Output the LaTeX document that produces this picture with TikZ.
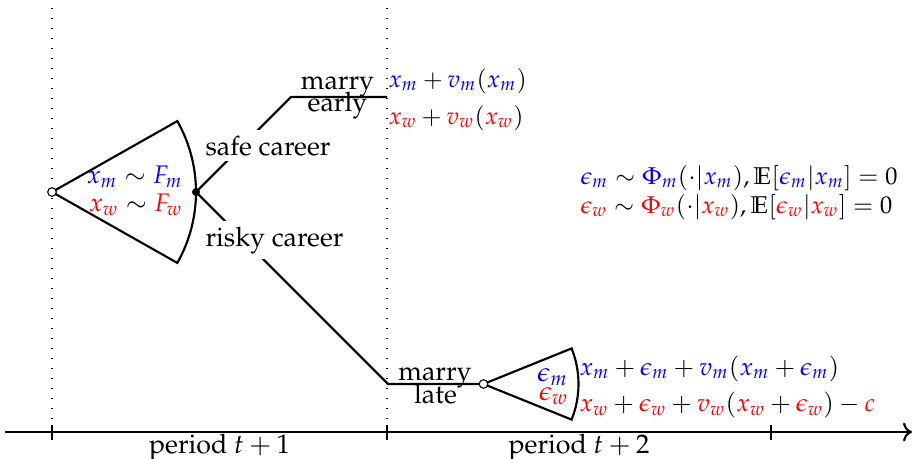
\documentclass[tikz,border=0pt]{standalone}
\usepackage[T1]{fontenc}
\usepackage{mathpazo}
\usepackage{amssymb}
\usetikzlibrary{arrows.meta}
\newcommand\Bl[1]{{\color{blue}#1}}
\newcommand\Rd[1]{{\color{red}#1}}
\begin{document}
\begin{tikzpicture}[x=0.373pt,y=-0.373pt,
  edge/.style={thick},
  guide/.style={line width=0.4pt, dash pattern=on 0.4pt off 3.33pt},
  lbl/.style={inner sep=0pt},
  mlbl/.style={inner sep=0pt, font=\fontsize{#1}{11}\selectfont},
  gap/.style={fill=white, inner sep=2pt},
  chance/.style={circle, draw, fill=white, line width=0.4pt, inner sep=0pt, minimum size=3.2pt},
  decision/.style={circle, fill=black, inner sep=0pt, minimum size=3pt}]
\useasboundingbox (0,0) rectangle (914,458);
% coordinates
\coordinate (o1) at (52,192);
\coordinate (d1) at (196,192);
\coordinate (e1) at (291,97);
\coordinate (e2) at (387,97);
\coordinate (l1) at (388,384);
\coordinate (o2) at (483.5,384);
\coordinate (a0) at (5,432);
\coordinate (a1) at (912,432);
\coordinate (t1) at (52,432);
\coordinate (t2) at (387,432);
\coordinate (t3) at (771,432);
\coordinate (g1) at (52,8);
\coordinate (g2) at (387,8);
% guides and axis
\draw[guide] (g1) -- (t1);
\draw[guide] (g2) -- (t2);
\draw[thick,->] (a0) -- (a1);
\foreach \t in {t1,t2,t3} \draw[thick] (\t) ++(0,-7) -- ++(0,15);
% sectors
\draw[edge] (o1) -- ++(29.5:144) arc[start angle=29.5, end angle=-29.5, radius=144] -- cycle;
\draw[edge] (o2) -- ++(22:95) arc[start angle=22, end angle=-22, radius=95] -- cycle;
% branches
\draw[edge] (d1) -- (e1) -- (e2);
\draw[edge] (d1) -- (l1) -- (o2);
% nodes
\node[decision] (dot) at (d1) {};
\node[chance] (c1) at (o1) {};
\node[chance] (c2) at (o2) {};
\node[gap, anchor=base west] (safe) at (199.6,155) {safe career};
\node[gap, anchor=base west] (risky) at (199.6,246) {risky career};
\node[lbl, anchor=base] (me) at (337.5,89) {marry};
\node[lbl, anchor=base] (ee) at (337.5,111) {early};
\node[lbl, anchor=base] (ml) at (435,380) {marry};
\node[lbl, anchor=base] (lt) at (435.5,403) {late};
\node[mlbl=9, anchor=base west] (pe1) at (388,87) {$\Bl{x_m}+\Bl{v_m}(\Bl{x_m})$};
\node[mlbl=9, anchor=base west] (pe2) at (388,124) {$\Rd{x_w}+\Rd{v_w}(\Rd{x_w})$};
\node[mlbl=9.3, anchor=base west] (pl1) at (579,375) {$\Bl{x_m}+\Bl{\epsilon_m}+\Bl{v_m}(\Bl{x_m}+\Bl{\epsilon_m})$};
\node[mlbl=9.3, anchor=base west] (pl2) at (579,411.5) {$\Rd{x_w}+\Rd{\epsilon_w}+\Rd{v_w}(\Rd{x_w}+\Rd{\epsilon_w})-\Rd{c}$};
\node[mlbl=9.05, anchor=base west] (sh1) at (580,184) {$\Bl{\epsilon_m}\sim\Bl{\Phi_m}(\cdot|\Bl{x_m}),\mathbb{E}[\Bl{\epsilon_m}|\Bl{x_m}]=0$};
\node[mlbl=9.05, anchor=base west] (sh2) at (580,213) {$\Rd{\epsilon_w}\sim\Rd{\Phi_w}(\cdot|\Rd{x_w}),\mathbb{E}[\Rd{\epsilon_w}|\Rd{x_w}]=0$};
\node[mlbl=9.5, anchor=base east] (fm) at (183.3,183.3) {$\Bl{x_m}\sim\Bl{F_m}$};
\node[mlbl=9.5, anchor=base east] (fw) at (183.3,211.7) {$\Rd{x_w}\sim\Rd{F_w}$};
\node[lbl, anchor=base east] (em) at (568.5,381.5) {$\Bl{\epsilon_m}$};
\node[lbl, anchor=base east] (ew) at (569,400) {$\Rd{\epsilon_w}$};
\node[lbl, anchor=base] (p1) at (219.5,453) {period $t+1$};
\node[lbl, anchor=base] (p2) at (579,453) {period $t+2$};
\end{tikzpicture}
\end{document}
